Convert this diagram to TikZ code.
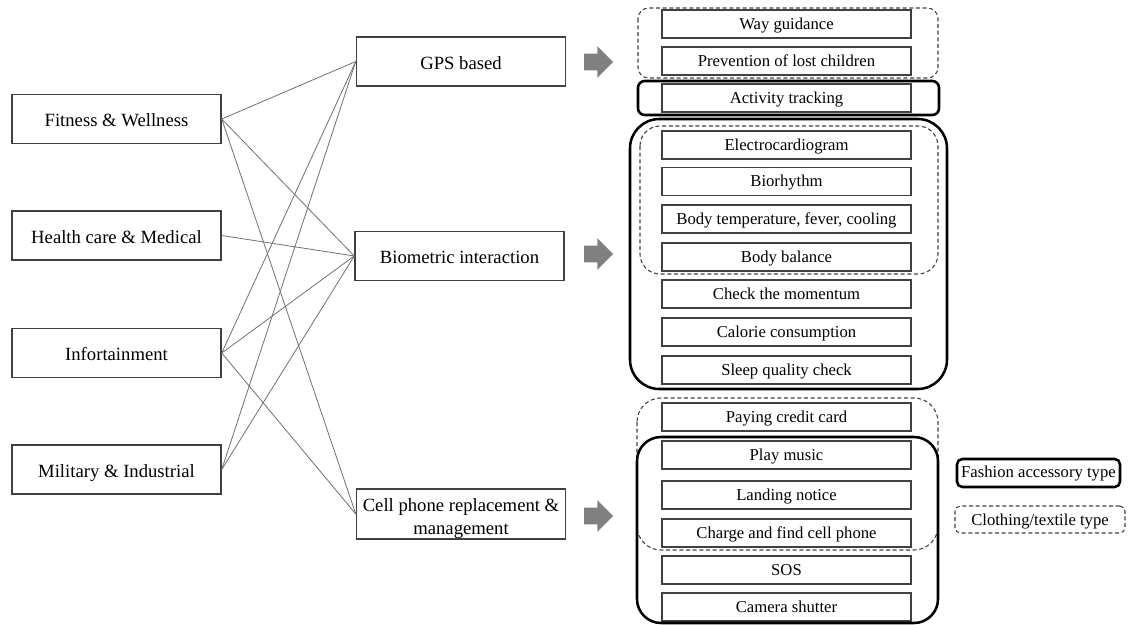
\documentclass[tikz,border=0pt]{standalone}
\usepackage{fontspec}
\setmainfont{Liberation Serif}
\usetikzlibrary{shapes.arrows,fit}
\definecolor{conn}{HTML}{707070}
\definecolor{boxline}{HTML}{404040}
\definecolor{arrowgray}{HTML}{808080}
\tikzset{
  bigbox/.style={draw=boxline, line width=1.1pt, minimum width=209*0.75pt, minimum height=49*0.75pt, font=\fontsize{14}{16}\selectfont, inner sep=1pt, text height=11.6pt, text depth=0pt},
  itembox/.style={draw=boxline, line width=1pt, minimum width=249*0.75pt, minimum height=28*0.75pt, font=\fontsize{12.5}{14}\selectfont, inner sep=0pt, text height=8pt, text depth=0pt},
  link/.style={draw=conn, line width=0.6pt},
  blockarrow/.style={single arrow, fill=arrowgray, draw=none, minimum height=29*0.75pt, inner xsep=0pt, inner ysep=6pt, text width=0pt, text height=0pt, text depth=0pt, single arrow head extend=5.6pt},
  solidgroup/.style={draw=black, line width=1.9pt},
  dashgroup/.style={draw=boxline, line width=0.8pt, dash pattern=on 3pt off 2pt},
  legendtext/.style={font=\fontsize{12.5}{14}\selectfont, inner sep=0pt, text depth=0pt},
}
\begin{document}
\begin{tikzpicture}[x=0.75pt,y=-0.75pt]
\useasboundingbox (0,0) rectangle (1129,625);
% left boxes
\node[bigbox] (fit) at (116.5,119) {Fitness \& Wellness};
\node[bigbox] (health) at (116.5,235.5) {Health care \& Medical};
\node[bigbox] (info) at (116.5,353) {Infortainment};
\node[bigbox] (mil) at (116.5,469.5) {Military \& Industrial};
% middle boxes
\node[bigbox] (gps) at (461,61.5) {GPS based};
\node[bigbox] (bio) at (459.5,256) {Biometric interaction};
\node[bigbox, minimum height=50*0.75pt, text height=, text depth=] (cell) at (461,514) {\raisebox{-7pt}[0pt][0pt]{\begin{tabular}{@{}c@{}}Cell phone replacement \&\\[1pt] management\end{tabular}}};
% connectors
\draw[link] (fit.east) -- (gps.west);
\draw[link] (fit.east) -- (bio.west);
\draw[link] (fit.east) -- (cell.west);
\draw[link] (health.east) -- (bio.west);
\draw[link] (info.east) -- (gps.west);
\draw[link] (info.east) -- (bio.west);
\draw[link] (info.east) -- (cell.west);
\draw[link] (mil.east) -- (gps.west);
\draw[link] (mil.east) -- (bio.west);
% block arrows
\node[blockarrow] (a1) at (594.5,62) {};
\node[blockarrow] (a2) at (594.5,254) {};
\node[blockarrow] (a3) at (594.5,516) {};
% right list
\node[itembox] (way) at (786.5,24) {Way guidance};
\node[itembox] (prev) at (786.5,61) {Prevention of lost children};
\node[itembox] (act) at (786.5,98) {Activity tracking};
\node[itembox] (ecg) at (786.5,145) {Electrocardiogram};
\node[itembox] (rhy) at (786.5,181.5) {Biorhythm};
\node[itembox] (temp) at (786.5,219) {Body temperature, fever, cooling};
\node[itembox] (bal) at (786.5,257) {Body balance};
\node[itembox] (mom) at (786.5,294) {Check the momentum};
\node[itembox] (cal) at (786.5,332) {Calorie consumption};
\node[itembox] (sleep) at (786.5,370) {Sleep quality check};
\node[itembox] (pay) at (786.5,417) {Paying credit card};
\node[itembox] (music) at (786.5,455) {Play music};
\node[itembox] (land) at (786.5,495) {Landing notice};
\node[itembox] (charge) at (786.5,533) {Charge and find cell phone};
\node[itembox] (sos) at (786.5,570) {SOS};
\node[itembox] (cam) at (786.5,607) {Camera shutter};
% groups
\draw[dashgroup, rounded corners=8pt] (638,8) rectangle (938,78);
\draw[solidgroup, rounded corners=5pt] (638,81) rectangle (939,115);
\draw[solidgroup, rounded corners=22pt] (630,119) rectangle (947,389);
\draw[dashgroup, rounded corners=15pt] (640,126) rectangle (938,274);
\draw[dashgroup, rounded corners=18pt] (637,398) rectangle (938,550);
\draw[solidgroup, rounded corners=18pt] (637,437) rectangle (938,623);
% legend
\node[solidgroup, legendtext, text height=7pt, rounded corners=4pt, minimum width=163*0.75pt, minimum height=28*0.75pt] (lsolid) at (1038.5,473) {Fashion accessory type};
\node[dashgroup, legendtext, text height=9.5pt, rounded corners=4pt, minimum width=170*0.75pt, minimum height=27*0.75pt] (ldash) at (1040,519.5) {Clothing/textile type};
\end{tikzpicture}
\end{document}
